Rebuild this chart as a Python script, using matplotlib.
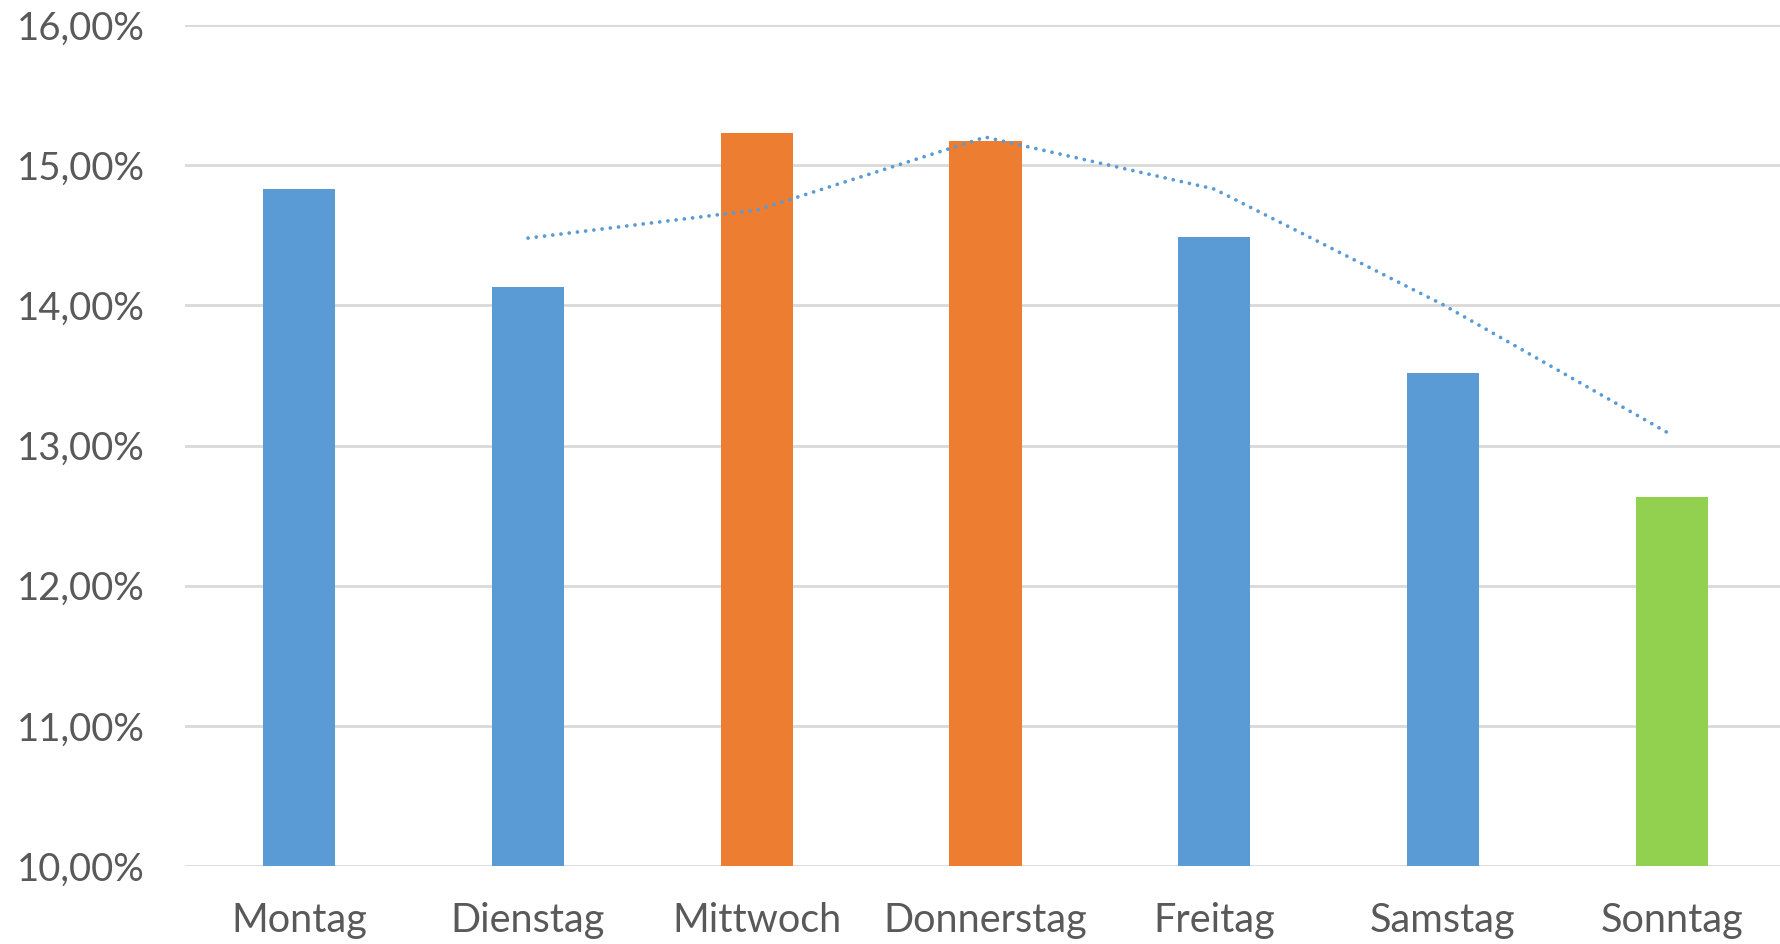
import matplotlib
matplotlib.use("Agg")
import matplotlib.pyplot as plt
from matplotlib.ticker import FuncFormatter, MultipleLocator
import pandas as pd

# Share of events per weekday
days = ["Montag", "Dienstag", "Mittwoch", "Donnerstag", "Freitag", "Samstag", "Sonntag"]
shares = [0.1483, 0.1413, 0.1523, 0.1517, 0.1449, 0.1352, 0.1263]
bar_colors = ["#5B9BD5", "#5B9BD5", "#ED7D31", "#ED7D31", "#5B9BD5", "#5B9BD5", "#92D050"]

# Two-period moving average trendline
trend = pd.Series(shares).rolling(2).mean()

plt.rcParams["font.family"] = ["Lato", "DejaVu Sans"]
text_color = "#595959"
grid_color = "#D9D9D9"

fig = plt.figure(figsize=(17.8, 9.44), dpi=100)
ax = fig.add_axes([0.1039, 0.0826, 0.8995, 0.8909])

x = list(range(len(days)))
ax.bar(x, shares, width=0.316, color=bar_colors, zorder=2)
ax.plot(x, trend, color="#5B9BD5", linewidth=2.7,
        linestyle=(0, (0.01, 2.2)), dash_capstyle="round", zorder=3)

ax.set_ylim(0.10, 0.16)
ax.set_xlim(-0.5, len(days) - 0.5)
ax.yaxis.set_major_locator(MultipleLocator(0.01))
ax.yaxis.set_major_formatter(
    FuncFormatter(lambda v, _: f"{v * 100:.2f}".replace(".", ",") + "%"))
ax.set_xticks(x)
ax.set_xticklabels(days)

ax.grid(axis="y", color=grid_color, linewidth=2, zorder=0)
ax.set_axisbelow(True)
for s in ax.spines.values():
    s.set_visible(False)
ax.tick_params(axis="both", length=0, labelcolor=text_color)
ax.tick_params(axis="y", pad=29, labelsize=27.5)
ax.tick_params(axis="x", pad=26, labelsize=28.5)

fig.savefig("out.png", dpi=100, facecolor="white")
